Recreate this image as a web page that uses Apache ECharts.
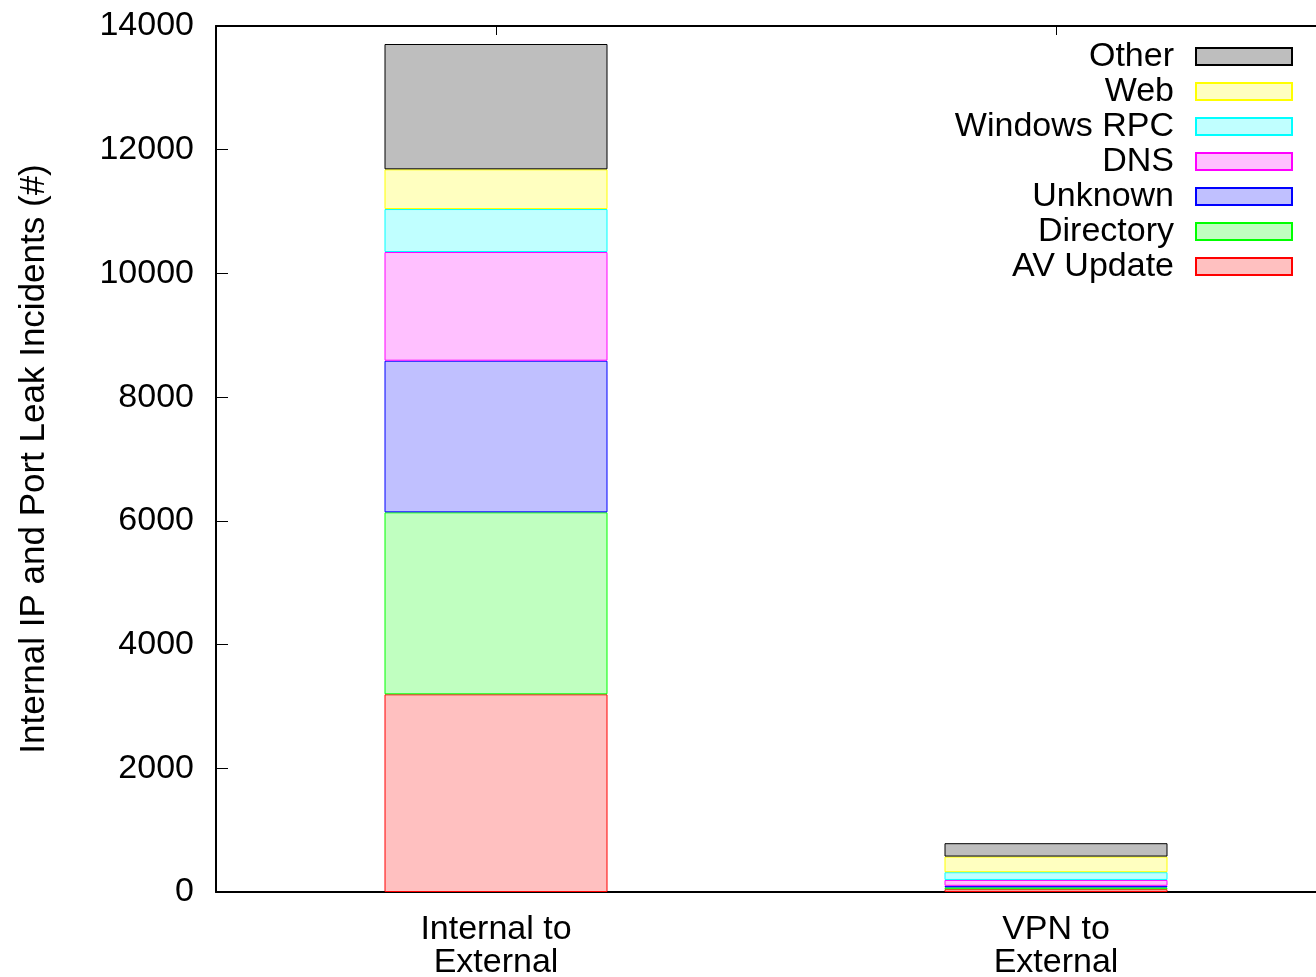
<!DOCTYPE html>
<html>
<head>
<meta charset="utf-8">
<script src="https://cdn.jsdelivr.net/npm/echarts@6/dist/echarts.min.js"></script>
<style>
  html, body { margin: 0; padding: 0; background: #fff; }
  #chart { width: 1316px; height: 977px; }
</style>
</head>
<body>
<div id="chart"></div>
<script>
const categories = ['Internal to\nExternal', 'VPN to\nExternal'];
const seriesNames = ['AV Update', 'Directory', 'Unknown', 'DNS', 'Windows RPC', 'Web', 'Other'];
const avUpdate   = [3196, 45];
const directory  = [2942, 30];
const unknown    = [2451, 25];
const dns        = [1757, 95];
const windowsRpc = [695, 125];
const web        = [642, 253];
const other      = [2026, 216];
const yTicks = [0, 2000, 4000, 6000, 8000, 10000, 12000, 14000];

const fills   = ['#ffc0c0', '#c0ffc0', '#c0c0ff', '#ffc0ff', '#c0ffff', '#ffffc0', '#bebebe'];
const borders = ['#ff0000', '#00ff00', '#0000ff', '#ff00ff', '#00ffff', '#ffff00', '#000000'];
const values  = [avUpdate, directory, unknown, dns, windowsRpc, web, other];

const font = 'Liberation Sans, Arial, Helvetica, sans-serif';
const chart = echarts.init(document.getElementById('chart'));

const series = seriesNames.map((name, i) => ({
  name: name,
  type: 'bar',
  stack: 'total',
  data: values[i],
  barWidth: 223,
  itemStyle: { color: fills[i], borderColor: borders[i], borderWidth: 1 }
}));

chart.setOption({
  animation: false,
  backgroundColor: '#fff',
  grid: { left: 216, top: 26, width: 1120, bottom: 85, show: false, outerBoundsMode: 'none', containLabel: false },
  legend: {
    orient: 'vertical',
    right: 18,
    top: 34,
    align: 'right',
    icon: 'rect',
    itemWidth: 96,
    itemHeight: 17,
    itemGap: 0,
    data: seriesNames.slice().reverse(),
    textStyle: {
      fontFamily: font, fontSize: 34, color: '#000',
      width: 240, align: 'right', lineHeight: 35, padding: [0, 17, 0, 0]
    }
  },
  xAxis: [{
    type: 'category',
    data: categories,
    position: 'bottom',
    axisLine: { lineStyle: { color: '#000', width: 2 } },
    axisTick: { show: false },
    axisLabel: { fontFamily: font, fontSize: 34, color: '#000', lineHeight: 33, margin: 21 }
  }, {
    type: 'category',
    data: categories,
    position: 'top',
    axisLine: { lineStyle: { color: '#000', width: 2 } },
    axisTick: { show: true, inside: true, alignWithLabel: true, length: 9, lineStyle: { color: '#000', width: 1 } },
    axisLabel: { show: false }
  }],
  yAxis: {
    type: 'value',
    min: 0,
    max: 14000,
    interval: 2000,
    name: 'Internal IP and Port Leak Incidents (#)',
    nameLocation: 'middle',
    nameGap: 164,
    nameTextStyle: { fontFamily: font, fontSize: 35, color: '#000' },
    axisLine: { show: true, lineStyle: { color: '#000', width: 2 } },
    axisTick: { show: true, inside: true, length: 12, lineStyle: { color: '#000', width: 1 } },
    axisLabel: { fontFamily: font, fontSize: 34, color: '#000', margin: 22,
      formatter: v => yTicks.indexOf(v) >= 0 ? String(v) : '' },
    splitLine: { show: false }
  },
  series: series
});
</script>
</body>
</html>
